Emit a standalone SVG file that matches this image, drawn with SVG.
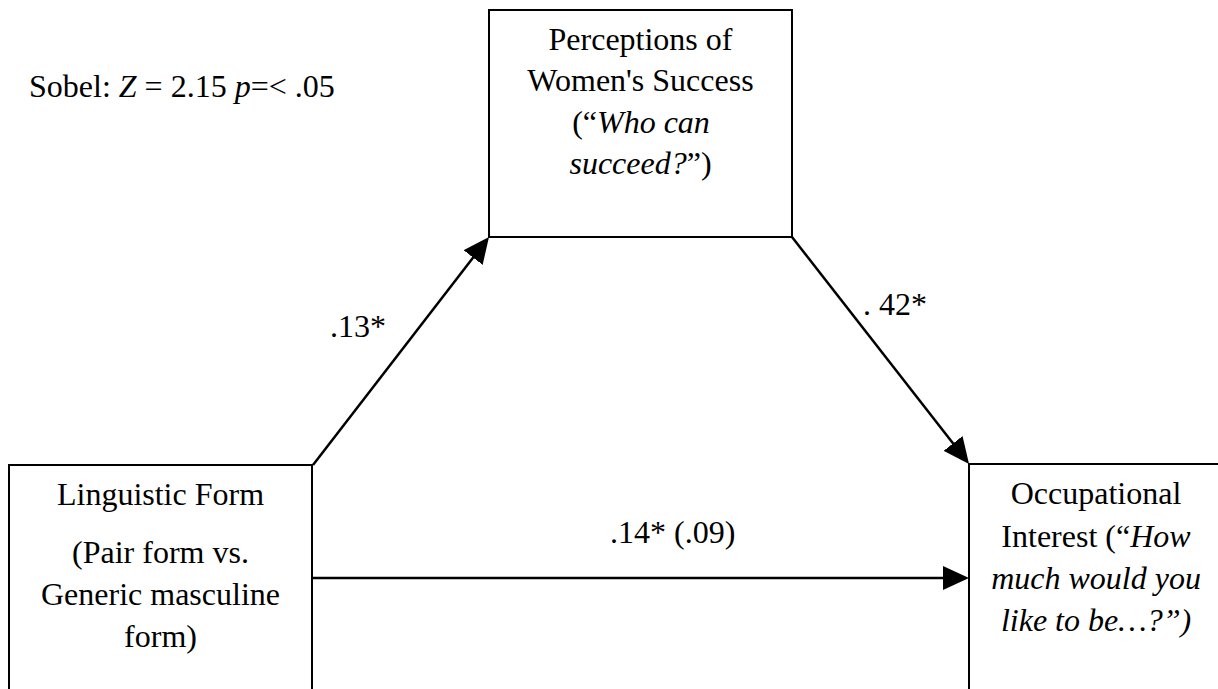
<svg xmlns="http://www.w3.org/2000/svg" width="1218" height="689" viewBox="0 0 1218 689">
<style>
  .box { fill: #ffffff; stroke: #000000; stroke-width: 2; }
  .t { font-family: "Liberation Serif", "Times New Roman", serif; font-size: 32px; fill: #000000; }
  .c { text-anchor: middle; }
  .i { font-style: italic; }
  .edge { stroke: #000000; stroke-width: 2.5; fill: none; marker-end: url(#arrow); }
</style>
<defs>
  <marker id="arrow" markerUnits="userSpaceOnUse" viewBox="0 0 26 24" refX="16" refY="12" markerWidth="26" markerHeight="24" orient="auto">
    <path d="M0,0 L26,12 L0,24 z" fill="#000000"/>
  </marker>
</defs>
<rect width="1218" height="689" fill="#ffffff"/>

<text class="t" x="29" y="97">Sobel: <tspan class="i">Z</tspan> = 2.15 <tspan class="i">p</tspan>=&lt; .05</text>

<g id="connectors">
  <line class="edge" x1="313" y1="465" x2="482.9" y2="244.9"/>
  <line class="edge" x1="792" y1="237" x2="962.9" y2="456.1"/>
  <line class="edge" x1="312" y1="578" x2="959" y2="578"/>
  <text class="t" x="330" y="337">.13*</text>
  <text class="t" x="863" y="315">. 42*</text>
  <text class="t" x="610" y="543">.14* (.09)</text>
</g>

<g id="node-perceptions">
  <rect class="box" x="489" y="10" width="303" height="227"/>
  <text class="t c" x="640.5" y="50">Perceptions of</text>
  <text class="t c" x="640.5" y="91">Women's Success</text>
  <text class="t c" x="641" y="133">(“<tspan class="i">Who can</tspan></text>
  <text class="t c" x="640.5" y="174"><tspan class="i">succeed?</tspan>”)</text>
</g>

<g id="node-linguistic">
  <rect class="box" x="9" y="465" width="303" height="300"/>
  <text class="t c" x="160.5" y="505">Linguistic Form</text>
  <text class="t c" x="160.5" y="563">(Pair form vs.</text>
  <text class="t c" x="160.5" y="605">Generic masculine</text>
  <text class="t c" x="160.5" y="647">form)</text>
</g>

<g id="node-occupational">
  <rect class="box" x="969" y="464" width="300" height="300"/>
  <text class="t c" x="1096" y="504">Occupational</text>
  <text class="t c" x="1096" y="547">Interest (“<tspan class="i">How</tspan></text>
  <text class="t c i" x="1096" y="589">much would you</text>
  <text class="t c i" x="1096" y="631">like to be…?”)</text>
</g>
</svg>
